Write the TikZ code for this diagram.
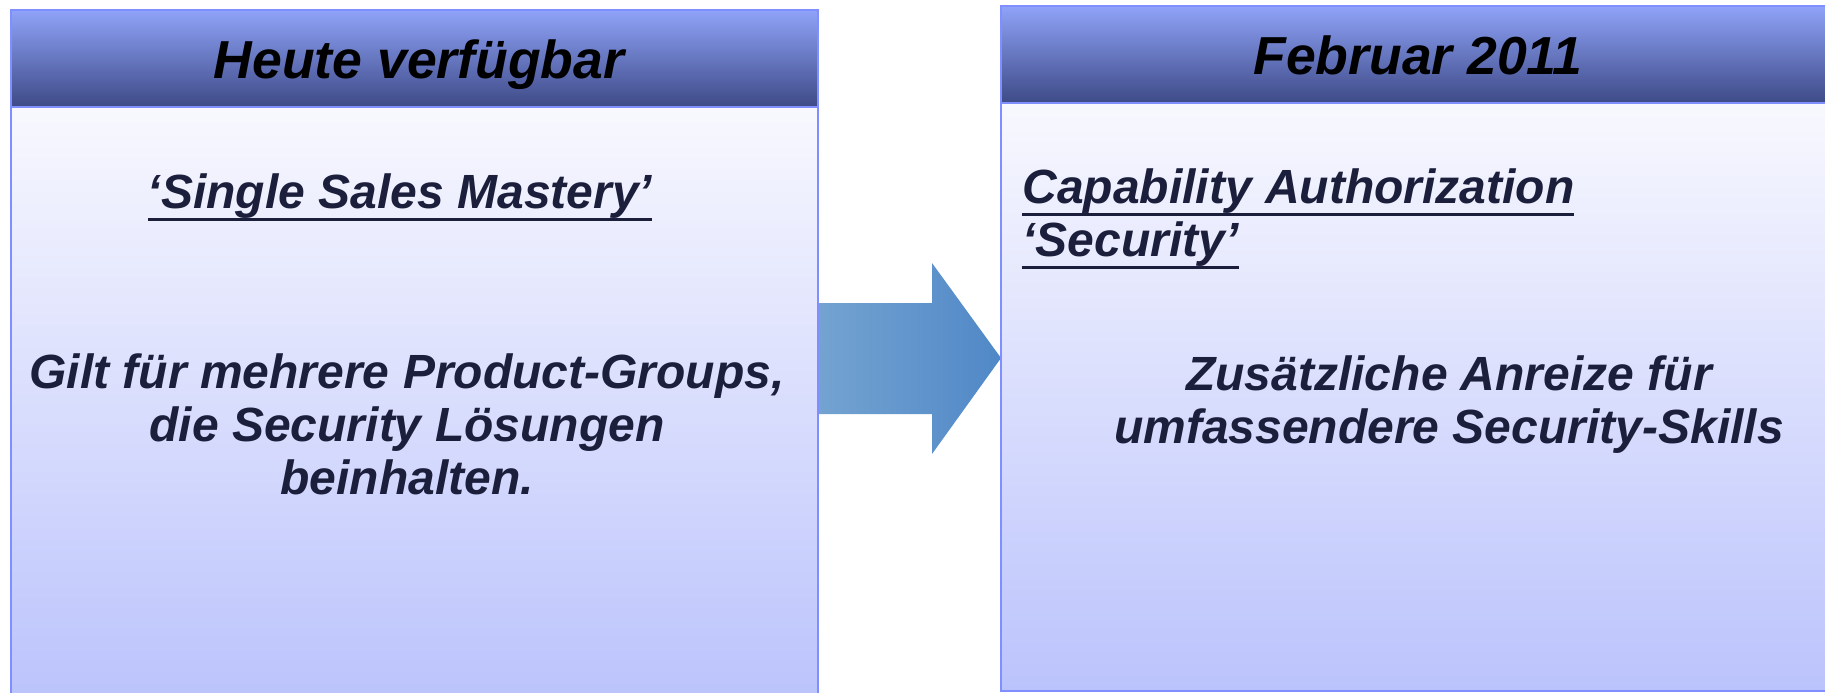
\documentclass[tikz,border=0pt]{standalone}
\usepackage{fontspec}
\setmainfont{Liberation Sans}
\definecolor{frame}{HTML}{7F8FFF}
\definecolor{headtop}{HTML}{8FA3F8}
\definecolor{headbot}{HTML}{3E4A87}
\definecolor{bodytop}{HTML}{F8F8FE}
\definecolor{bodybot}{HTML}{BBC3FC}
\definecolor{ink}{HTML}{1B1F3B}
\definecolor{arrowl}{HTML}{74A3D1}
\definecolor{arrowr}{HTML}{5088C7}
% underline drawn as a rule a little below the baseline
\newcommand\ulx[1]{\setbox0=\hbox{#1}\rlap{\rule[-6.5pt]{\wd0}{1.6pt}}\box0}
\tikzset{
  panelhead/.style={draw=frame, line width=1.2pt, top color=headtop, bottom color=headbot, inner sep=0pt},
  panelbody/.style={draw=frame, line width=1.2pt, top color=bodytop, bottom color=bodybot, inner sep=0pt},
  headtext/.style={font=\fontsize{26.75pt}{32pt}\selectfont\bfseries\itshape, text=black, inner sep=0pt},
  bodytext/.style={font=\fontsize{24pt}{26.5pt}\selectfont\bfseries\itshape, text=ink, inner sep=0pt},
  blockarrow/.style={left color=arrowl, right color=arrowr},
}
\begin{document}
\begin{tikzpicture}[x=0.5pt, y=-0.5pt]
\useasboundingbox (0,0) rectangle (1825,692);
\clip (0,0) rectangle (1825,692);

% block arrow between the two panels
\path[blockarrow] (818,303) -- (932,303) -- (932,263) -- (1001,358)
  -- (932,454) -- (932,414) -- (818,414) -- cycle;

% left panel
\node[panelbody, minimum width=403.5pt, minimum height=296.5pt] (lbody) at (414.5,403.5) {};
\node[panelhead, minimum width=403.5pt, minimum height=48.5pt] (lhead) at (414.5,58.5) {};
\node[headtext, anchor=base] (lheadtxt) at (419,78) {Heute verfügbar};
\node[bodytext, anchor=base] (ltitle) at (400,208) {\ulx{‘Single Sales Mastery’}};
\node[bodytext, anchor=base] (ldesc) at (407,388)
  {\begin{tabular}[t]{@{}c@{}}Gilt für mehrere Product-Groups,\\die Security Lösungen\\beinhalten.\end{tabular}};

% right panel
\node[panelbody, minimum width=417pt, minimum height=294pt] (rbody) at (1418,397) {};
\node[panelhead, minimum width=417pt, minimum height=48.5pt] (rhead) at (1418,54.5) {};
\node[headtext, anchor=base] (rheadtxt) at (1418,74) {Februar 2011};
\node[bodytext, anchor=base west] (rtitle) at (1022,203)
  {\begin{tabular}[t]{@{}l@{}}\ulx{Capability Authorization}\\\ulx{‘Security’}\end{tabular}};
\node[bodytext, anchor=base] (rdesc) at (1449,390)
  {\begin{tabular}[t]{@{}c@{}}Zusätzliche Anreize für\\umfassendere Security-Skills\end{tabular}};
\end{tikzpicture}
\end{document}
